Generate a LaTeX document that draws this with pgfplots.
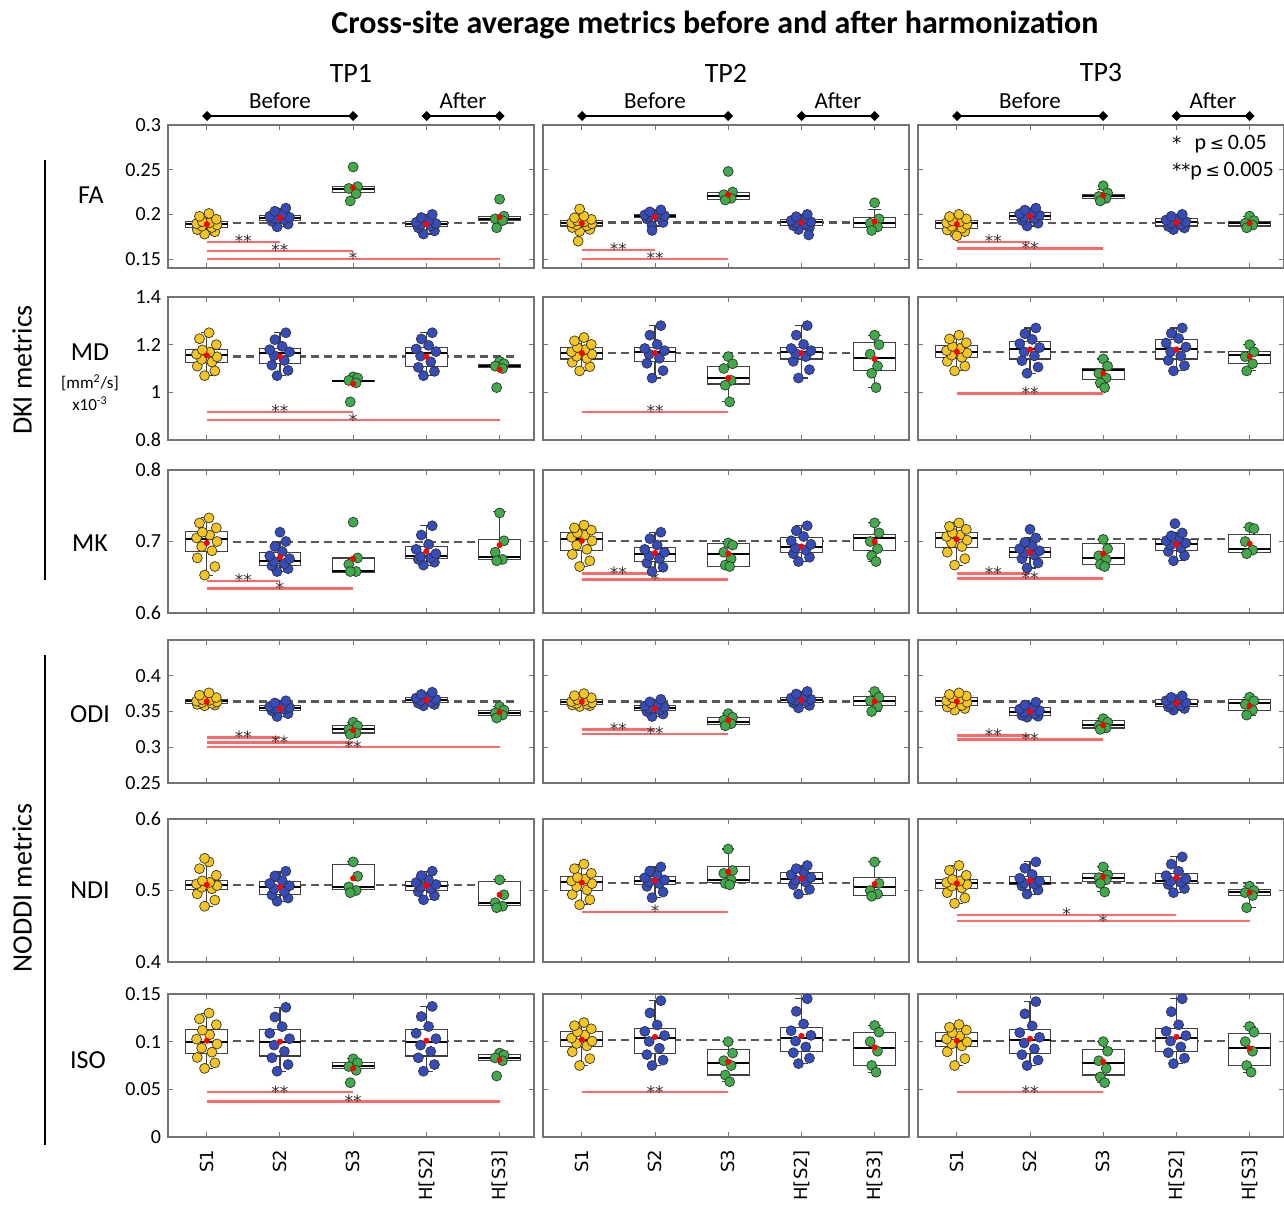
\documentclass[border=0pt]{standalone}
\usepackage{pgfplots}
\pgfplotsset{compat=1.18}
\usepgfplotslibrary{statistics}
\usetikzlibrary{arrows.meta}
\usepackage{fontspec}
\setmainfont{Carlito}
\newfontfamily\dvs{DejaVu Sans}
\definecolor{cy}{RGB}{247,198,30}
\definecolor{cb}{RGB}{52,76,190}
\definecolor{cg}{RGB}{62,172,72}
\definecolor{sgc}{RGB}{255,105,105}
\tikzset{st/.style={font=\dvs\fontsize{8.5}{11}\selectfont, text=black!80, anchor=base, yshift=-2.9pt, inner sep=0pt}}
\pgfplotsset{
 pan/.style={scale only axis, width=183pt, height=71.5pt, anchor=north west,
   xmin=0.47, xmax=5.47, xtick={1,2,3,4,5}, xticklabels={}, yticklabels={},
   axis line style={black!55, line width=0.7pt}, tick style={black!55, line width=0.5pt},
   major tick length=2.5pt, tick align=inside,
   yticklabel style={font=\fontsize{10}{12}\selectfont},
   xticklabel style={rotate=90, anchor=east, font=\dvs\fontsize{9}{11}\selectfont},
   xticklabel shift=3pt,
   clip=false},
 rFA/.style={ymin=0.14,ymax=0.30,ytick={0.15,0.2,0.25,0.3}},
 lFA/.style={yticklabels={0.15,0.2,0.25,0.3}},
 rMD/.style={ymin=0.8,ymax=1.4,ytick={0.8,1,1.2,1.4}},
 lMD/.style={yticklabels={0.8,1,1.2,1.4}},
 rMK/.style={ymin=0.6,ymax=0.8,ytick={0.6,0.7,0.8}},
 lMK/.style={yticklabels={0.6,0.7,0.8}},
 rODI/.style={ymin=0.25,ymax=0.45,ytick={0.25,0.3,0.35,0.4}},
 lODI/.style={yticklabels={0.25,0.3,0.35,0.4}},
 rNDI/.style={ymin=0.4,ymax=0.6,ytick={0.4,0.5,0.6}},
 lNDI/.style={yticklabels={0.4,0.5,0.6}},
 rISO/.style={ymin=0,ymax=0.15,ytick={0,0.05,0.1,0.15}},
 lISO/.style={yticklabels={0,0.05,0.1,0.15}},
 lX/.style={xticklabels={S1,S2,S3,H[S2],H[S3]}},
 bxs/.style={draw=black!75, fill=white, line width=0.55pt, solid, mark=none,
   boxplot/draw direction=y,
   boxplot/box extend=0.57, boxplot/whisker extend=0.17,
   boxplot/every median/.style={black, line width=1pt}},
 py/.style={only marks, mark=*, mark size=2.5pt, mark options={fill=cy, draw=black!80, line width=0.35pt}},
 pb/.style={only marks, mark=*, mark size=2.5pt, mark options={fill=cb, draw=black!80, line width=0.35pt}},
 pg/.style={only marks, mark=*, mark size=2.5pt, mark options={fill=cg, draw=black!80, line width=0.35pt}},
 mn/.style={only marks, mark=*, mark size=1.3pt, mark options={fill=red, draw=red}},
 dsl/.style={black!65, dash pattern=on 4pt off 2.5pt, line width=1.1pt},
 sgl/.style={sgc, line width=1.2pt},
}
\newcommand{\bx}[6]{\addplot[bxs,boxplot prepared={draw position=#1,lower whisker=#2,lower quartile=#3,median=#4,upper quartile=#5,upper whisker=#6}] coordinates {};}
\newcommand{\sg}[4]{\addplot[sgl] coordinates {(1,#2) (#1,#2)};\node[st] at (axis cs:#3,#2) {#4};}
\newcommand{\dl}[1]{\addplot[dsl] coordinates {(1,#1) (5.25,#1)};}
\begin{document}
\begin{tikzpicture}
\path[use as bounding box] (0,0) rectangle (642pt,-602pt);
\begin{scope}[x=0.5pt,y=-0.5pt]
\node[font=\bfseries\fontsize{16}{19}\selectfont] at (715,25) {Cross-site average metrics before and after harmonization};
\node[font=\fontsize{14}{16}\selectfont] at (351,73) {TP1};
\node[font=\fontsize{14}{16}\selectfont] at (726,73) {TP2};
\node[font=\fontsize{14}{16}\selectfont] at (1101,73) {TP3};
\tikzset{dd/.style={line width=1pt, {Diamond[length=5pt,width=5pt]}-{Diamond[length=5pt,width=5pt]}}}
\draw[dd] (202,116)--(358,116); \draw[dd] (421.5,116)--(504.5,116);
\draw[dd] (577,116)--(733,116); \draw[dd] (796.5,116)--(879.5,116);
\draw[dd] (952,116)--(1108,116); \draw[dd] (1171.5,116)--(1254.5,116);
\node[font=\fontsize{11.5}{13}\selectfont] at (280,101) {Before};
\node[font=\fontsize{11.5}{13}\selectfont] at (463,101) {After};
\node[font=\fontsize{11.5}{13}\selectfont] at (655,101) {Before};
\node[font=\fontsize{11.5}{13}\selectfont] at (838,101) {After};
\node[font=\fontsize{11.5}{13}\selectfont] at (1030,101) {Before};
\node[font=\fontsize{11.5}{13}\selectfont] at (1213,101) {After};
\node[rotate=90,font=\fontsize{14}{16}\selectfont] at (22,370) {DKI metrics};
\draw[line width=0.8pt] (45,160)--(45,580);
\node[rotate=90,font=\fontsize{14}{16}\selectfont] at (22,888) {NODDI metrics};
\draw[line width=0.8pt] (45,655)--(45,1145);
\node[font=\fontsize{13}{15}\selectfont] at (91,195) {FA};
\node[font=\fontsize{13}{15}\selectfont] at (90,352) {MD};
\node[font=\fontsize{8.5}{10}\selectfont] at (90,383) {[mm\textsuperscript{2}/s]};
\node[font=\fontsize{8.5}{10}\selectfont] at (90,404) {x10\textsuperscript{-3}};
\node[font=\fontsize{13}{15}\selectfont] at (90,543) {MK};
\node[font=\fontsize{13}{15}\selectfont] at (90,714) {ODI};
\node[font=\fontsize{13}{15}\selectfont] at (90,890) {NDI};
\node[font=\fontsize{13}{15}\selectfont] at (88,1060) {ISO};
\node[anchor=west,inner sep=0pt,font=\fontsize{11}{13}\selectfont] at (1172,144) {{\dvs\fontsize{9}{11}\selectfont*}\hspace{0.6em}p\,{\dvs\fontsize{8.5}{11}\selectfont≤}\,0.05};
\node[anchor=west,inner sep=0pt,font=\fontsize{11}{13}\selectfont] at (1172,171) {{\dvs\fontsize{9}{11}\selectfont**}p\,{\dvs\fontsize{8.5}{11}\selectfont≤}\,0.005};
\end{scope}
% ================= FA =================
\begin{axis}[pan,rFA,lFA,at={(84pt,-62.5pt)}]
\sg{2}{0.169}{1.5}{**}\sg{3}{0.159}{2}{**}\sg{5}{0.150}{3}{*}
\dl{0.190}
\bx{1}{0.178}{0.185}{0.189}{0.192}{0.201}\bx{2}{0.186}{0.193}{0.196}{0.199}{0.207}\bx{3}{0.224}{0.224}{0.228}{0.231}{0.231}\bx{4}{0.178}{0.186}{0.189}{0.192}{0.200}\bx{5}{0.193}{0.193}{0.195}{0.198}{0.198}
\addplot[py] coordinates {(0.97,0.178)(1.11,0.1805)(0.87,0.183)(1.07,0.1853)(0.93,0.1868)(1.14,0.1882)(0.86,0.1896)(1.04,0.1907)(0.94,0.1918)(1.13,0.1945)(0.9,0.1978)(1.03,0.201)};
\addplot[pb] coordinates {(1.96,0.186)(2.11,0.1891)(1.89,0.1922)(2.06,0.194)(1.92,0.1953)(2.13,0.1967)(1.86,0.198)(2.03,0.2)(1.93,0.2035)(2.08,0.207)(3.96,0.178)(4.11,0.1815)(3.89,0.185)(4.06,0.187)(3.92,0.1883)(4.13,0.1897)(3.86,0.191)(4.03,0.193)(3.93,0.1965)(4.08,0.2)};
\addplot[pg] coordinates {(3,0.253)(3.06,0.231)(2.94,0.229)(3.04,0.223)(2.96,0.215)(5,0.217)(5.06,0.198)(4.94,0.195)(5.04,0.193)(4.96,0.185)};
\addplot[mn] coordinates {(1,0.189)(2,0.196)(3,0.230)(4,0.189)(5,0.197)};
\end{axis}
\begin{axis}[pan,rFA,at={(271.5pt,-62.5pt)}]
\sg{2}{0.160}{1.5}{**}\sg{3}{0.150}{2}{**}
\dl{0.191}
\bx{1}{0.181}{0.187}{0.190}{0.193}{0.198}\bx{2}{0.187}{0.196}{0.198}{0.200}{0.205}\bx{3}{0.216}{0.217}{0.220}{0.224}{0.226}\bx{4}{0.183}{0.188}{0.191}{0.194}{0.200}\bx{5}{0.182}{0.185}{0.190}{0.196}{0.205}
\addplot[py] coordinates {(0.97,0.181)(1.11,0.1832)(0.87,0.1853)(1.07,0.1872)(0.93,0.1883)(1.14,0.1894)(0.86,0.1906)(1.04,0.1917)(0.94,0.1928)(1.13,0.1944)(0.9,0.1962)(1.03,0.198)(0.97,0.206)(0.95,0.170)};
\addplot[pb] coordinates {(1.96,0.187)(2.11,0.191)(1.89,0.1949)(2.06,0.1966)(1.92,0.1975)(2.13,0.1985)(1.86,0.1994)(2.03,0.2006)(1.93,0.2028)(2.08,0.205)(1.96,0.182)(3.96,0.183)(4.11,0.1852)(3.89,0.1874)(4.06,0.189)(3.92,0.1903)(4.13,0.1917)(3.86,0.193)(4.03,0.1947)(3.93,0.1974)(4.08,0.2)(4.1,0.177)};
\addplot[pg] coordinates {(3,0.248)(3.06,0.225)(2.94,0.222)(3.04,0.218)(2.96,0.216)(5,0.213)(5.06,0.195)(4.94,0.190)(5.04,0.186)(4.96,0.182)};
\addplot[mn] coordinates {(1,0.190)(2,0.197)(3,0.222)(4,0.191)(5,0.192)};
\end{axis}
\begin{axis}[pan,rFA,at={(459pt,-62.5pt)}]
\sg{2}{0.169}{1.5}{**}\sg{3}{0.162}{2}{**}
\dl{0.190}
\bx{1}{0.179}{0.184}{0.190}{0.193}{0.200}\bx{2}{0.187}{0.194}{0.198}{0.202}{0.207}\bx{3}{0.213}{0.218}{0.221}{0.222}{0.228}\bx{4}{0.183}{0.187}{0.191}{0.195}{0.200}\bx{5}{0.185}{0.187}{0.190}{0.192}{0.198}
\addplot[py] coordinates {(0.97,0.179)(1.11,0.1808)(0.87,0.1826)(1.07,0.1845)(0.93,0.1866)(1.14,0.1888)(0.86,0.1906)(1.04,0.1917)(0.94,0.1928)(1.13,0.195)(0.9,0.1975)(1.03,0.2)(1.0,0.176)};
\addplot[pb] coordinates {(1.96,0.187)(2.11,0.1901)(1.89,0.1932)(2.06,0.1953)(1.92,0.197)(2.13,0.199)(1.86,0.2007)(2.03,0.2026)(1.93,0.2048)(2.08,0.207)(3.96,0.183)(4.11,0.1848)(3.89,0.1865)(4.06,0.1883)(3.92,0.19)(4.13,0.192)(3.86,0.1937)(4.03,0.1956)(3.93,0.1978)(4.08,0.2)};
\addplot[pg] coordinates {(3,0.232)(3.06,0.224)(2.94,0.220)(3.04,0.218)(2.96,0.215)(5,0.198)(5.06,0.193)(4.94,0.190)(5.04,0.188)(4.96,0.185)};
\addplot[mn] coordinates {(1,0.189)(2,0.198)(3,0.221)(4,0.191)(5,0.190)};
\end{axis}
% ================= MD =================
\begin{axis}[pan,rMD,lMD,at={(84pt,-148.5pt)}]
\sg{3}{0.918}{2}{**}\sg{5}{0.883}{3}{*}
\dl{1.15}
\bx{1}{1.07}{1.125}{1.155}{1.18}{1.25}\bx{2}{1.07}{1.12}{1.165}{1.185}{1.25}\bx{3}{1.045}{1.045}{1.047}{1.05}{1.05}\bx{4}{1.07}{1.11}{1.165}{1.19}{1.25}\bx{5}{1.105}{1.105}{1.11}{1.115}{1.115}
\addplot[py] coordinates {(0.97,1.07)(1.11,1.09)(0.87,1.11)(1.07,1.127)(0.93,1.138)(1.14,1.149)(0.86,1.16)(1.04,1.169)(0.94,1.178)(1.13,1.2)(0.9,1.225)(1.03,1.25)};
\addplot[pb] coordinates {(1.96,1.07)(2.11,1.092)(1.89,1.114)(2.06,1.134)(1.92,1.154)(2.13,1.17)(1.86,1.179)(2.03,1.193)(1.93,1.221)(2.08,1.25)(3.96,1.07)(4.11,1.088)(3.89,1.105)(4.06,1.128)(3.92,1.152)(4.13,1.171)(3.86,1.182)(4.03,1.197)(3.93,1.224)(4.08,1.25)};
\addplot[pg] coordinates {(3,1.065)(3.06,1.06)(2.94,1.05)(3.04,1.04)(2.96,0.96)(5,1.13)(5.06,1.12)(4.94,1.11)(5.04,1.10)(4.96,1.02)};
\addplot[mn] coordinates {(1,1.155)(2,1.15)(3,1.035)(4,1.15)(5,1.095)};
\end{axis}
\begin{axis}[pan,rMD,at={(271.5pt,-148.5pt)}]
\sg{3}{0.918}{2}{**}
\dl{1.165}
\bx{1}{1.09}{1.14}{1.165}{1.19}{1.23}\bx{2}{1.06}{1.13}{1.17}{1.19}{1.28}\bx{3}{0.96}{1.035}{1.06}{1.11}{1.15}\bx{4}{1.06}{1.14}{1.17}{1.19}{1.28}\bx{5}{1.02}{1.09}{1.145}{1.21}{1.24}
\addplot[py] coordinates {(0.97,1.09)(1.11,1.108)(0.87,1.126)(1.07,1.142)(0.93,1.151)(1.14,1.16)(0.86,1.17)(1.04,1.179)(0.94,1.188)(1.13,1.201)(0.9,1.216)(1.03,1.23)};
\addplot[pb] coordinates {(1.96,1.06)(2.11,1.091)(1.89,1.122)(2.06,1.143)(1.92,1.16)(2.13,1.175)(1.86,1.184)(2.03,1.201)(1.93,1.24)(2.08,1.28)(3.96,1.06)(4.11,1.095)(3.89,1.13)(4.06,1.15)(3.92,1.163)(4.13,1.175)(3.86,1.184)(4.03,1.201)(3.93,1.24)(4.08,1.28)};
\addplot[pg] coordinates {(3,1.15)(3.06,1.12)(2.94,1.10)(3.04,1.05)(2.96,1.03)(3.02,0.96)(5,1.24)(5.06,1.20)(4.94,1.16)(5.04,1.11)(4.96,1.08)(5.02,1.02)};
\addplot[mn] coordinates {(1,1.165)(2,1.165)(3,1.06)(4,1.165)(5,1.14)};
\end{axis}
\begin{axis}[pan,rMD,at={(459pt,-148.5pt)}]
\sg{3}{0.995}{2}{**}
\dl{1.17}
\bx{1}{1.09}{1.145}{1.17}{1.195}{1.24}\bx{2}{1.08}{1.14}{1.18}{1.215}{1.27}\bx{3}{1.02}{1.055}{1.095}{1.10}{1.14}\bx{4}{1.09}{1.14}{1.18}{1.22}{1.27}\bx{5}{1.09}{1.12}{1.155}{1.17}{1.20}
\addplot[py] coordinates {(0.97,1.09)(1.11,1.11)(0.87,1.13)(1.07,1.147)(0.93,1.156)(1.14,1.165)(0.86,1.175)(1.04,1.184)(0.94,1.193)(1.13,1.208)(0.9,1.224)(1.03,1.24)};
\addplot[pb] coordinates {(1.96,1.08)(2.11,1.106)(1.89,1.133)(2.06,1.153)(1.92,1.17)(2.13,1.188)(1.86,1.204)(2.03,1.222)(1.93,1.246)(2.08,1.27)(3.96,1.09)(4.11,1.112)(3.89,1.134)(4.06,1.153)(3.92,1.17)(4.13,1.19)(3.86,1.207)(4.03,1.226)(3.93,1.248)(4.08,1.27)};
\addplot[pg] coordinates {(3,1.14)(3.06,1.11)(2.94,1.08)(3.04,1.06)(2.96,1.04)(3.02,1.02)(5,1.20)(5.06,1.17)(4.94,1.15)(5.04,1.12)(4.96,1.09)};
\addplot[mn] coordinates {(1,1.17)(2,1.18)(3,1.08)(4,1.18)(5,1.15)};
\end{axis}
% ================= MK =================
\begin{axis}[pan,rMK,lMK,at={(84pt,-235pt)}]
\sg{2}{0.645}{1.5}{**}\sg{3}{0.634}{2}{*}
\dl{0.699}
\bx{1}{0.653}{0.686}{0.703}{0.714}{0.733}\bx{2}{0.658}{0.667}{0.673}{0.684}{0.700}\bx{3}{0.657}{0.657}{0.659}{0.677}{0.677}\bx{4}{0.667}{0.676}{0.680}{0.693}{0.722}\bx{5}{0.673}{0.675}{0.678}{0.703}{0.742}
\addplot[py] coordinates {(0.97,0.653)(1.11,0.665)(0.87,0.677)(1.07,0.687)(0.93,0.693)(1.14,0.7)(0.86,0.705)(1.04,0.709)(0.94,0.713)(1.13,0.719)(0.9,0.726)(1.03,0.733)};
\addplot[pb] coordinates {(1.96,0.658)(2.11,0.662)(1.89,0.666)(2.06,0.669)(1.92,0.672)(2.13,0.676)(1.86,0.68)(2.03,0.686)(1.93,0.693)(2.08,0.7)(2.0,0.713)(3.96,0.667)(4.11,0.671)(3.89,0.675)(4.06,0.677)(3.92,0.679)(4.13,0.683)(3.86,0.689)(4.03,0.696)(3.93,0.709)(4.08,0.722)};
\addplot[pg] coordinates {(3,0.727)(3.06,0.677)(2.94,0.668)(3.04,0.658)(2.96,0.658)(5,0.74)(5.06,0.701)(4.94,0.685)(5.04,0.675)(4.96,0.673)};
\addplot[mn] coordinates {(1,0.698)(2,0.678)(3,0.676)(4,0.686)(5,0.695)};
\end{axis}
\begin{axis}[pan,rMK,at={(271.5pt,-235pt)}]
\sg{2}{0.655}{1.5}{**}\sg{3}{0.647}{2}{*}
\dl{0.701}
\bx{1}{0.665}{0.688}{0.704}{0.713}{0.723}\bx{2}{0.658}{0.672}{0.683}{0.692}{0.713}\bx{3}{0.663}{0.665}{0.683}{0.697}{0.700}\bx{4}{0.672}{0.685}{0.693}{0.705}{0.722}\bx{5}{0.672}{0.688}{0.705}{0.710}{0.726}
\addplot[py] coordinates {(0.97,0.665)(1.11,0.673)(0.87,0.682)(1.07,0.689)(0.93,0.695)(1.14,0.701)(0.86,0.706)(1.04,0.709)(0.94,0.712)(1.13,0.716)(0.9,0.719)(1.03,0.723)};
\addplot[pb] coordinates {(1.96,0.658)(2.11,0.664)(1.89,0.67)(2.06,0.676)(1.92,0.68)(2.13,0.685)(1.86,0.689)(2.03,0.695)(1.93,0.704)(2.08,0.713)(3.96,0.672)(4.11,0.678)(3.89,0.683)(4.06,0.688)(3.92,0.691)(4.13,0.696)(3.86,0.701)(4.03,0.707)(3.93,0.715)(4.08,0.722)};
\addplot[pg] coordinates {(3,0.698)(3.06,0.695)(2.94,0.685)(3.04,0.676)(2.96,0.667)(3.02,0.665)(5,0.726)(5.06,0.712)(4.94,0.7)(5.04,0.69)(4.96,0.68)(5.02,0.672)};
\addplot[mn] coordinates {(1,0.701)(2,0.684)(3,0.683)(4,0.693)(5,0.700)};
\end{axis}
\begin{axis}[pan,rMK,at={(459pt,-235pt)}]
\sg{2}{0.655}{1.5}{**}\sg{3}{0.648}{2}{**}
\dl{0.703}
\bx{1}{0.667}{0.692}{0.705}{0.713}{0.726}\bx{2}{0.663}{0.678}{0.686}{0.692}{0.705}\bx{3}{0.665}{0.668}{0.677}{0.697}{0.703}\bx{4}{0.673}{0.688}{0.697}{0.703}{0.712}\bx{5}{0.683}{0.685}{0.690}{0.710}{0.720}
\addplot[py] coordinates {(0.97,0.667)(1.11,0.676)(0.87,0.685)(1.07,0.693)(0.93,0.698)(1.14,0.702)(0.86,0.707)(1.04,0.709)(0.94,0.712)(1.13,0.717)(0.9,0.721)(1.03,0.726)};
\addplot[pb] coordinates {(1.96,0.663)(2.11,0.67)(1.89,0.676)(2.06,0.681)(1.92,0.684)(2.13,0.687)(1.86,0.69)(2.03,0.694)(1.93,0.699)(2.08,0.705)(2.0,0.717)(3.96,0.673)(4.11,0.68)(3.89,0.686)(4.06,0.691)(3.92,0.695)(4.13,0.698)(3.86,0.701)(4.03,0.704)(3.93,0.708)(4.08,0.712)(3.98,0.725)};
\addplot[pg] coordinates {(3,0.703)(3.06,0.69)(2.94,0.68)(3.04,0.675)(2.96,0.668)(3.02,0.665)(5,0.72)(5.06,0.718)(4.94,0.7)(5.04,0.688)(4.96,0.683)};
\addplot[mn] coordinates {(1,0.703)(2,0.685)(3,0.683)(4,0.696)(5,0.697)};
\end{axis}
% ================= ODI =================
\begin{axis}[pan,rODI,lODI,at={(84pt,-320pt)}]
\sg{2}{0.3138}{1.5}{**}\sg{3}{0.3064}{2}{**}\sg{5}{0.300}{3}{**}
\dl{0.364}
\bx{1}{0.358}{0.361}{0.364}{0.367}{0.376}\bx{2}{0.343}{0.352}{0.355}{0.358}{0.365}\bx{3}{0.318}{0.320}{0.325}{0.330}{0.335}\bx{4}{0.358}{0.362}{0.366}{0.370}{0.377}\bx{5}{0.341}{0.345}{0.348}{0.351}{0.357}
\addplot[py] coordinates {(0.97,0.358)(1.11,0.359)(0.87,0.36)(1.07,0.3612)(0.93,0.3623)(1.14,0.3634)(0.86,0.3646)(1.04,0.3657)(0.94,0.3668)(1.13,0.3695)(0.9,0.3728)(1.03,0.376)};
\addplot[pb] coordinates {(1.96,0.343)(2.11,0.347)(1.89,0.351)(2.06,0.353)(1.92,0.3543)(2.13,0.3557)(1.86,0.357)(2.03,0.3588)(1.93,0.3619)(2.08,0.365)(3.96,0.358)(4.11,0.3598)(3.89,0.3615)(4.06,0.3633)(3.92,0.365)(4.13,0.367)(3.86,0.3687)(4.03,0.3708)(3.93,0.3739)(4.08,0.377)};
\addplot[pg] coordinates {(3,0.335)(3.06,0.33)(2.94,0.325)(3.04,0.32)(2.96,0.318)(5,0.357)(5.06,0.352)(4.94,0.348)(5.04,0.345)(4.96,0.341)};
\addplot[mn] coordinates {(1,0.364)(2,0.354)(3,0.324)(4,0.366)(5,0.349)};
\end{axis}
\begin{axis}[pan,rODI,at={(271.5pt,-320pt)}]
\sg{2}{0.3248}{1.5}{**}\sg{3}{0.3183}{2}{**}
\dl{0.364}
\bx{1}{0.357}{0.360}{0.363}{0.367}{0.375}\bx{2}{0.343}{0.351}{0.355}{0.359}{0.367}\bx{3}{0.330}{0.332}{0.336}{0.342}{0.347}\bx{4}{0.355}{0.363}{0.366}{0.370}{0.378}\bx{5}{0.350}{0.358}{0.364}{0.371}{0.378}
\addplot[py] coordinates {(0.97,0.357)(1.11,0.3581)(0.87,0.3592)(1.07,0.3602)(0.93,0.3613)(1.14,0.3624)(0.86,0.3638)(1.04,0.3652)(0.94,0.3667)(1.13,0.3692)(0.9,0.3721)(1.03,0.375)};
\addplot[pb] coordinates {(1.96,0.343)(2.11,0.3465)(1.89,0.35)(2.06,0.3523)(1.92,0.354)(2.13,0.356)(1.86,0.3577)(2.03,0.36)(1.93,0.3635)(2.08,0.367)(3.96,0.355)(4.11,0.3585)(3.89,0.362)(4.06,0.364)(3.92,0.3653)(4.13,0.367)(3.86,0.3687)(4.03,0.371)(3.93,0.3745)(4.08,0.378)};
\addplot[pg] coordinates {(3,0.347)(3.06,0.342)(2.94,0.338)(3.04,0.333)(2.96,0.33)(5,0.378)(5.06,0.37)(4.94,0.365)(5.04,0.357)(4.96,0.35)};
\addplot[mn] coordinates {(1,0.364)(2,0.354)(3,0.338)(4,0.366)(5,0.364)};
\end{axis}
\begin{axis}[pan,rODI,at={(459pt,-320pt)}]
\sg{2}{0.3165}{1.5}{**}\sg{3}{0.3106}{2}{**}
\dl{0.364}
\bx{1}{0.352}{0.358}{0.364}{0.370}{0.376}\bx{2}{0.342}{0.345}{0.350}{0.355}{0.363}\bx{3}{0.325}{0.327}{0.331}{0.337}{0.340}\bx{4}{0.352}{0.357}{0.361}{0.367}{0.372}\bx{5}{0.345}{0.352}{0.362}{0.367}{0.370}
\addplot[py] coordinates {(0.97,0.352)(1.11,0.3542)(0.87,0.3563)(1.07,0.3585)(0.93,0.3606)(1.14,0.3628)(0.86,0.3652)(1.04,0.3674)(0.94,0.3695)(1.13,0.3717)(0.9,0.3738)(1.03,0.376)};
\addplot[pb] coordinates {(1.96,0.342)(2.11,0.3433)(1.89,0.3446)(2.06,0.3466)(1.92,0.3488)(2.13,0.3512)(1.86,0.3534)(2.03,0.356)(1.93,0.359)(2.08,0.363)(3.96,0.352)(4.11,0.3542)(3.89,0.3564)(4.06,0.3583)(3.92,0.36)(4.13,0.3624)(3.86,0.3651)(4.03,0.3676)(3.93,0.3698)(4.08,0.372)};
\addplot[pg] coordinates {(3,0.34)(3.06,0.335)(2.94,0.33)(3.04,0.327)(2.96,0.325)(5,0.37)(5.06,0.365)(4.94,0.36)(5.04,0.352)(4.96,0.345)};
\addplot[mn] coordinates {(1,0.364)(2,0.350)(3,0.331)(4,0.362)(5,0.358)};
\end{axis}
% ================= NDI =================
\begin{axis}[pan,rNDI,lNDI,at={(84pt,-409.5pt)}]
\dl{0.508}
\bx{1}{0.478}{0.502}{0.508}{0.514}{0.540}\bx{2}{0.485}{0.495}{0.505}{0.512}{0.527}\bx{3}{0.497}{0.502}{0.505}{0.537}{0.540}\bx{4}{0.487}{0.500}{0.507}{0.513}{0.527}\bx{5}{0.476}{0.479}{0.483}{0.512}{0.515}
\addplot[py] coordinates {(0.97,0.478)(1.11,0.4866)(0.87,0.4953)(1.07,0.5025)(0.93,0.5046)(1.14,0.5068)(0.86,0.5092)(1.04,0.5114)(0.94,0.5135)(1.13,0.5213)(0.9,0.5306)(1.03,0.54)(0.97,0.545)};
\addplot[pb] coordinates {(1.96,0.485)(2.11,0.4894)(1.89,0.4938)(2.06,0.4982)(1.92,0.5026)(2.13,0.5067)(1.86,0.5098)(2.03,0.5138)(1.93,0.5204)(2.08,0.527)(3.96,0.487)(4.11,0.4927)(3.89,0.4984)(4.06,0.5022)(3.92,0.5053)(4.13,0.5084)(3.86,0.5111)(4.03,0.5147)(3.93,0.5208)(4.08,0.527)};
\addplot[pg] coordinates {(3,0.54)(3.06,0.52)(2.94,0.505)(3.04,0.5)(2.96,0.497)(5,0.515)(5.06,0.494)(4.94,0.483)(5.04,0.478)(4.96,0.476)};
\addplot[mn] coordinates {(1,0.508)(2,0.505)(3,0.517)(4,0.507)(5,0.494)};
\end{axis}
\begin{axis}[pan,rNDI,at={(271.5pt,-409.5pt)}]
\sg{3}{0.470}{2}{*}
\dl{0.511}
\bx{1}{0.480}{0.500}{0.512}{0.519}{0.537}\bx{2}{0.490}{0.508}{0.513}{0.520}{0.533}\bx{3}{0.508}{0.511}{0.515}{0.533}{0.558}\bx{4}{0.495}{0.510}{0.516}{0.525}{0.535}\bx{5}{0.492}{0.493}{0.505}{0.518}{0.540}
\addplot[py] coordinates {(0.97,0.48)(1.11,0.4872)(0.87,0.4944)(1.07,0.501)(0.93,0.5053)(1.14,0.5096)(0.86,0.5134)(1.04,0.5159)(0.94,0.5184)(1.13,0.524)(0.9,0.5305)(1.03,0.537)};
\addplot[pb] coordinates {(1.96,0.49)(2.11,0.4979)(1.89,0.5058)(2.06,0.5096)(1.92,0.5118)(2.13,0.5147)(1.86,0.5178)(2.03,0.5216)(1.93,0.5273)(2.08,0.533)(3.96,0.495)(4.11,0.5016)(3.89,0.5082)(4.06,0.5119)(3.92,0.5146)(4.13,0.5182)(3.86,0.5221)(4.03,0.5262)(3.93,0.5306)(4.08,0.535)};
\addplot[pg] coordinates {(3,0.558)(3.06,0.528)(2.94,0.524)(3.04,0.515)(2.96,0.51)(3.02,0.508)(5,0.54)(5.06,0.51)(4.94,0.5)(5.04,0.495)(4.96,0.492)};
\addplot[mn] coordinates {(1,0.511)(2,0.514)(3,0.526)(4,0.517)(5,0.509)};
\end{axis}
\begin{axis}[pan,rNDI,at={(459pt,-409.5pt)}]
\sg{4}{0.466}{2.5}{*}\sg{5}{0.457}{3}{*}
\dl{0.510}
\bx{1}{0.482}{0.503}{0.510}{0.516}{0.535}\bx{2}{0.495}{0.508}{0.511}{0.520}{0.540}\bx{3}{0.498}{0.512}{0.517}{0.524}{0.533}\bx{4}{0.497}{0.510}{0.514}{0.524}{0.547}\bx{5}{0.476}{0.493}{0.498}{0.501}{0.506}
\addplot[py] coordinates {(0.97,0.482)(1.11,0.4896)(0.87,0.4971)(1.07,0.5036)(0.93,0.5061)(1.14,0.5086)(0.86,0.5112)(1.04,0.5134)(0.94,0.5155)(1.13,0.5213)(0.9,0.5282)(1.03,0.535)};
\addplot[pb] coordinates {(1.96,0.495)(2.11,0.5007)(1.89,0.5064)(2.06,0.509)(1.92,0.5103)(2.13,0.5132)(1.86,0.5172)(2.03,0.5224)(1.93,0.5312)(2.08,0.54)(3.96,0.497)(4.11,0.5027)(3.89,0.5084)(4.06,0.5113)(3.92,0.513)(4.13,0.5164)(3.86,0.5208)(4.03,0.5268)(3.93,0.5369)(4.08,0.547)};
\addplot[pg] coordinates {(3,0.533)(3.06,0.522)(2.94,0.518)(3.04,0.515)(2.96,0.51)(3.02,0.498)(5,0.506)(5.06,0.5)(4.94,0.497)(5.04,0.493)(4.96,0.476)};
\addplot[mn] coordinates {(1,0.510)(2,0.514)(3,0.519)(4,0.518)(5,0.497)};
\end{axis}
% ================= ISO =================
\begin{axis}[pan,rISO,lISO,lX,at={(84pt,-497pt)}]
\sg{3}{0.047}{2}{**}\sg{5}{0.0373}{3}{**}
\dl{0.101}
\bx{1}{0.072}{0.088}{0.100}{0.113}{0.130}\bx{2}{0.069}{0.085}{0.100}{0.113}{0.136}\bx{3}{0.070}{0.072}{0.075}{0.078}{0.082}\bx{4}{0.069}{0.085}{0.100}{0.113}{0.137}\bx{5}{0.080}{0.080}{0.083}{0.087}{0.088}
\addplot[py] coordinates {(0.97,0.072)(1.11,0.0778)(0.87,0.0835)(1.07,0.089)(0.93,0.0933)(1.14,0.0976)(0.86,0.1026)(1.04,0.1073)(0.94,0.112)(1.13,0.1178)(0.9,0.1239)(1.03,0.13)};
\addplot[pb] coordinates {(1.96,0.069)(2.11,0.076)(1.89,0.0831)(2.06,0.0898)(1.92,0.0964)(2.13,0.1031)(1.86,0.1088)(2.03,0.1158)(1.93,0.1259)(2.08,0.136)(3.96,0.069)(4.11,0.076)(3.89,0.0831)(4.06,0.0898)(3.92,0.0964)(4.13,0.1031)(3.86,0.1088)(4.03,0.1159)(3.93,0.1264)(4.08,0.137)};
\addplot[pg] coordinates {(3,0.082)(3.06,0.078)(2.94,0.074)(3.04,0.07)(2.96,0.057)(5,0.088)(5.06,0.086)(4.94,0.083)(5.04,0.08)(4.96,0.064)};
\addplot[mn] coordinates {(1,0.101)(2,0.100)(3,0.072)(4,0.101)(5,0.081)};
\end{axis}
\begin{axis}[pan,rISO,lX,at={(271.5pt,-497pt)}]
\sg{3}{0.047}{2}{**}
\dl{0.102}
\bx{1}{0.075}{0.095}{0.102}{0.111}{0.120}\bx{2}{0.075}{0.088}{0.104}{0.114}{0.143}\bx{3}{0.058}{0.065}{0.078}{0.092}{0.100}\bx{4}{0.077}{0.090}{0.104}{0.115}{0.145}\bx{5}{0.068}{0.075}{0.093}{0.110}{0.117}
\addplot[py] coordinates {(0.97,0.075)(1.11,0.0822)(0.87,0.0894)(1.07,0.0956)(0.93,0.0981)(1.14,0.1006)(0.86,0.1038)(1.04,0.107)(0.94,0.1103)(1.13,0.1135)(0.9,0.1168)(1.03,0.12)};
\addplot[pb] coordinates {(1.96,0.075)(2.11,0.0807)(1.89,0.0864)(2.06,0.0931)(1.92,0.1002)(2.13,0.1064)(1.86,0.1108)(2.03,0.1175)(1.93,0.1302)(2.08,0.143)(3.96,0.077)(4.11,0.0827)(3.89,0.0884)(4.06,0.0945)(3.92,0.1006)(4.13,0.1066)(3.86,0.1115)(4.03,0.1186)(3.93,0.1318)(4.08,0.145)};
\addplot[pg] coordinates {(3,0.1)(3.06,0.088)(2.94,0.08)(3.04,0.075)(2.96,0.065)(3.02,0.058)(5,0.117)(5.06,0.11)(4.94,0.1)(5.04,0.09)(4.96,0.075)(5.02,0.068)};
\addplot[mn] coordinates {(1,0.102)(2,0.105)(3,0.079)(4,0.106)(5,0.094)};
\end{axis}
\begin{axis}[pan,rISO,lX,at={(459pt,-497pt)}]
\sg{3}{0.047}{2}{**}
\dl{0.101}
\bx{1}{0.075}{0.095}{0.101}{0.110}{0.118}\bx{2}{0.075}{0.088}{0.102}{0.113}{0.142}\bx{3}{0.057}{0.065}{0.078}{0.092}{0.100}\bx{4}{0.077}{0.090}{0.104}{0.114}{0.145}\bx{5}{0.068}{0.075}{0.093}{0.109}{0.116}
\addplot[py] coordinates {(0.97,0.075)(1.11,0.0822)(0.87,0.0894)(1.07,0.0955)(0.93,0.0976)(1.14,0.0998)(0.86,0.1028)(1.04,0.106)(0.94,0.1093)(1.13,0.1122)(0.9,0.1151)(1.03,0.118)};
\addplot[pb] coordinates {(1.96,0.075)(2.11,0.0807)(1.89,0.0864)(2.06,0.0925)(1.92,0.0986)(2.13,0.1046)(1.86,0.1095)(2.03,0.1165)(1.93,0.1292)(2.08,0.142)(3.96,0.077)(4.11,0.0827)(3.89,0.0884)(4.06,0.0945)(3.92,0.1006)(4.13,0.1064)(3.86,0.1108)(4.03,0.1177)(3.93,0.1314)(4.08,0.145)};
\addplot[pg] coordinates {(3,0.1)(3.06,0.09)(2.94,0.08)(3.04,0.072)(2.96,0.063)(3.02,0.057)(5,0.116)(5.06,0.11)(4.94,0.1)(5.04,0.09)(4.96,0.075)(5.02,0.068)};
\addplot[mn] coordinates {(1,0.101)(2,0.103)(3,0.079)(4,0.105)(5,0.093)};
\end{axis}
\end{tikzpicture}
\end{document}
